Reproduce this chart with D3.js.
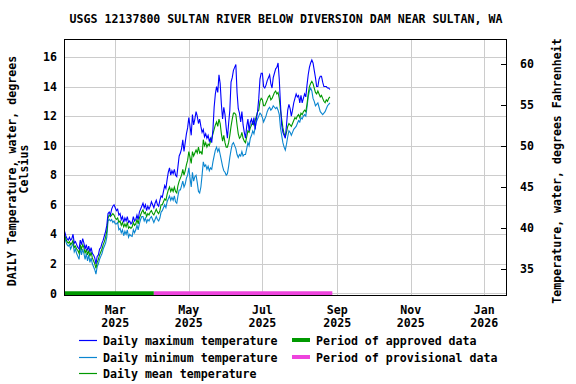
<!DOCTYPE html>
<html><head><meta charset="utf-8">
<script src="https://cdn.jsdelivr.net/npm/d3@7"></script>
<style>
html,body{margin:0;padding:0;background:#fff;}
text{font-family:"DejaVu Sans Mono",monospace;font-weight:bold;fill:#000;}
</style></head>
<body>
<svg id="c" width="576" height="384"></svg>
<script>
const title = "USGS 12137800 SULTAN RIVER BELOW DIVERSION DAM NEAR SULTAN, WA";
const startDay = "2025-01-18";
const maxT = [4.2,3.9,3.7,3.6,3.8,3.6,3.7,4.0,3.4,3.5,
3.3,3.1,3.0,3.6,3.3,3.7,3.4,3.0,3.3,2.9,
3.2,2.8,3.1,2.7,2.6,2.4,2.0,2.5,2.6,3.0,
3.1,3.4,3.6,3.9,4.2,4.6,5.4,5.5,5.3,5.7,
5.9,6.0,5.8,5.6,5.7,5.3,5.4,5.0,5.2,4.8,
5.1,4.9,5.2,4.8,4.9,4.7,4.8,5.2,4.9,5.0,
5.3,5.0,5.5,5.7,5.9,6.1,5.8,6.0,5.6,5.9,
5.7,5.9,6.2,6.0,5.8,6.1,6.3,6.0,5.9,6.3,
6.6,6.5,6.9,7.3,7.1,7.7,8.2,8.5,8.0,8.3,
8.1,8.4,8.0,7.9,8.6,9.3,9.5,9.8,10.4,9.6,
10.2,10.8,11.2,11.9,11.3,10.7,12.1,11.4,11.8,12.3,
12.0,11.5,11.8,11.3,10.9,11.1,10.6,10.8,10.5,10.7,
10.3,10.5,10.2,11.1,12.6,13.5,14.0,13.6,14.8,14.2,
12.8,11.8,12.6,12.1,11.2,10.5,11.5,12.4,14.3,14.6,
15.1,15.3,15.5,13.6,12.5,12.2,11.6,12.3,11.4,10.9,
10.5,11.3,11.8,11.0,11.6,11.8,11.4,11.9,11.1,11.8,
12.3,13.2,14.5,14.9,14.9,14.0,13.9,14.1,14.4,14.6,
14.8,14.2,13.9,14.6,14.9,15.2,15.3,15.6,14.5,12.8,
11.4,10.9,10.7,10.5,11.4,12.4,12.8,12.5,12.0,12.4,
12.9,13.2,13.5,13.3,13.4,12.9,13.4,12.9,13.2,13.5,
13.3,14.1,14.8,15.3,15.6,15.8,15.6,15.1,14.6,14.0,
14.0,14.5,14.7,14.7,14.3,14.0,14.0,14.0,13.9,13.9,13.8];
const meanT = [3.95,3.7,3.5,3.4,3.5,3.3,3.4,3.6,3.1,3.2,
3.0,2.9,2.7,3.3,3.0,3.3,3.1,2.7,3.0,2.6,
2.9,2.5,2.8,2.4,2.2,2.0,1.7,2.1,2.3,2.6,
2.8,3.0,3.3,3.5,3.8,4.2,5.1,5.3,5.2,5.3,
5.4,5.3,5.1,5.0,5.1,4.8,4.9,4.6,4.8,4.5,
4.7,4.5,4.8,4.4,4.5,4.4,4.5,4.8,4.6,4.7,
5.0,4.7,5.1,5.3,5.5,5.65,5.4,5.5,5.2,5.4,
5.3,5.5,5.6,5.4,5.3,5.5,5.7,5.5,5.4,5.6,
6.0,6.0,6.2,6.4,6.3,6.7,7.0,7.2,6.9,7.1,
6.9,7.2,6.9,6.8,7.3,7.6,7.8,8.0,8.4,8.0,
8.3,8.7,9.0,9.6,9.2,8.8,9.6,9.3,9.5,9.7,
9.5,9.9,9.5,9.6,9.4,10.4,10.0,10.2,9.9,10.1,
10.0,10.3,10.5,10.8,11.1,11.4,11.6,11.3,11.8,11.5,
10.8,10.3,10.7,10.2,9.9,9.9,10.2,10.7,11.3,11.8,
12.2,12.2,12.1,11.4,10.8,10.5,10.6,10.9,10.5,10.3,
10.2,10.6,11.0,10.9,11.2,11.4,11.6,11.4,11.7,12.0,
12.3,12.4,13.0,13.2,13.1,12.7,12.7,12.9,13.1,13.3,
13.4,13.1,13.2,13.4,13.6,13.7,13.5,13.6,13.2,12.4,
11.8,11.2,10.8,10.6,10.9,11.3,11.5,11.4,11.3,11.5,
11.7,11.9,11.8,12.0,12.1,11.9,12.2,12.1,12.3,12.4,
12.3,12.8,13.5,14.0,14.2,14.35,14.2,13.9,13.6,13.5,
13.7,13.5,13.3,13.4,13.2,13.0,12.9,13.1,13.0,13.2,13.3];
const minT = [3.9,3.5,3.3,3.2,3.3,3.0,3.2,3.4,2.8,3.0,
2.7,2.5,2.3,3.1,2.6,3.0,2.7,2.3,2.7,2.2,
2.6,2.1,2.4,2.0,1.8,1.6,1.3,1.8,2.0,2.3,
2.5,2.7,3.0,3.2,3.4,3.8,4.9,5.0,4.9,5.0,
4.8,4.9,4.7,4.7,4.8,4.3,4.4,4.1,4.3,3.9,
4.2,4.0,4.3,3.8,4.0,3.9,3.85,4.3,4.1,4.3,
4.6,4.3,4.7,5.0,5.2,5.2,4.9,5.1,4.8,5.0,
4.9,5.1,5.2,5.0,4.8,5.0,5.2,5.0,4.9,5.1,
5.5,5.6,5.8,6.0,5.8,6.2,6.4,6.6,6.3,6.5,
6.3,6.6,6.2,6.1,6.6,7.0,7.0,7.3,7.6,7.2,
7.4,7.8,8.0,8.5,7.8,7.2,8.2,7.6,7.9,8.0,
7.5,6.9,6.8,7.2,8.0,8.9,8.6,8.7,8.4,8.6,
8.3,8.5,8.4,8.9,9.3,9.7,9.9,9.6,9.8,9.4,
9.0,8.6,8.3,8.2,8.0,8.1,8.6,9.2,9.7,10.1,
10.2,10.0,9.8,9.4,9.2,9.4,9.3,9.6,9.3,9.4,
9.4,9.8,10.2,10.0,10.5,10.7,11.0,10.8,11.2,11.6,
11.8,12.0,12.2,12.1,11.9,11.6,11.8,12.0,12.3,12.5,
12.6,12.4,12.5,12.7,12.6,12.5,12.6,12.4,12.1,11.2,
10.7,10.2,9.9,9.7,10.1,10.6,11.0,10.9,10.7,10.9,
11.1,11.2,11.3,11.5,11.7,11.6,11.9,11.8,12.0,12.1,
12.0,12.6,13.3,13.7,13.9,13.7,13.2,13.0,12.7,12.8,
12.9,12.6,12.3,12.2,12.1,12.2,12.3,12.5,12.7,12.8,12.9];
const periods = [
  {label:"Period of approved data", start:"2025-01-17", end:"2025-04-02", color:"#009900"},
  {label:"Period of provisional data", start:"2025-04-02", end:"2025-08-28", color:"#ee44dd"}
];
const seriesInfo = [
  {label:"Daily maximum temperature", color:"#0000ff", values:maxT},
  {label:"Daily minimum temperature", color:"#0b86d0", values:minT},
  {label:"Daily mean temperature", color:"#009900", values:meanT}
];
const leftTicks = [0,2,4,6,8,10,12,14,16];
const rightTicks = [35,40,45,50,55,60];
const monthTicks = ["2025-03-01","2025-05-01","2025-07-01","2025-09-01","2025-11-01","2026-01-01"];

const svg = d3.select("#c");
const L=64, R=507, T=39, B=296;
const parse = d3.timeParse("%Y-%m-%d");
const x = d3.scaleTime().domain([new Date(2025,0,17,12), new Date(2026,0,19,20)]).range([L,R]);
const y = d3.scaleLinear().domain([-0.18,17.22]).range([B,T]);
const yF = d3.scaleLinear().domain([-0.18*1.8+32,17.22*1.8+32]).range([B,T]);
const start = parse(startDay);
const dates = maxT.map((_,i)=>d3.timeDay.offset(start,i));

// title
svg.append("text").attr("x",286).attr("y",23).attr("text-anchor","middle")
  .style("font-size","11.6px").text(title);

// grid
const g = svg.append("g");
g.selectAll(".hg").data(leftTicks).join("line")
  .attr("x1",L).attr("x2",R).attr("y1",d=>Math.round(y(d))+0.5).attr("y2",d=>Math.round(y(d))+0.5)
  .attr("stroke","#cccccc").attr("stroke-width",1);
g.selectAll(".vg").data(monthTicks).join("line")
  .attr("y1",T).attr("y2",B).attr("x1",d=>Math.round(x(parse(d)))+0.5).attr("x2",d=>Math.round(x(parse(d)))+0.5)
  .attr("stroke","#cccccc").attr("stroke-width",1);

// series
const line = d3.line().x((d,i)=>x(dates[i])).y(d=>y(d));
[seriesInfo[1],seriesInfo[2],seriesInfo[0]].forEach(s=>{
  svg.append("path").datum(s.values).attr("d",line).attr("fill","none")
    .attr("stroke",s.color).attr("stroke-width",1.1).attr("stroke-linejoin","miter");
});

// periods
periods.forEach(p=>{
  svg.append("line").attr("x1",Math.max(L,x(parse(p.start)))).attr("x2",x(parse(p.end)))
    .attr("y1",y(0)).attr("y2",y(0)).attr("stroke",p.color).attr("stroke-width",4);
});

// frame
svg.append("rect").attr("x",L+0.5).attr("y",T+0.5).attr("width",R-L-1).attr("height",B-T-1)
  .attr("fill","none").attr("stroke","#000").attr("stroke-width",1);

// left axis labels
svg.selectAll(".lt").data(leftTicks).join("text").attr("x",57).attr("y",d=>y(d)).attr("dy","0.36em")
  .attr("text-anchor","end").style("font-size","11.6px").text(d=>d);
// right ticks
svg.selectAll(".rtk").data(rightTicks).join("line").attr("x1",R-6).attr("x2",R)
  .attr("y1",d=>Math.round(yF(d))+0.5).attr("y2",d=>Math.round(yF(d))+0.5).attr("stroke","#000");
svg.selectAll(".rt").data(rightTicks).join("text").attr("x",520).attr("y",d=>yF(d)).attr("dy","0.36em")
  .attr("text-anchor","start").style("font-size","11.6px").text(d=>d);

// x labels
const fm = d3.timeFormat("%b"), fy = d3.timeFormat("%Y");
monthTicks.forEach(m=>{
  const d=parse(m), xx=x(d);
  svg.append("text").attr("x",xx).attr("y",314).attr("text-anchor","middle").style("font-size","11.6px").text(fm(d));
  svg.append("text").attr("x",xx).attr("y",327).attr("text-anchor","middle").style("font-size","11.6px").text(fy(d));
});

// axis titles
svg.append("text").attr("transform","translate(16,171) rotate(-90)").attr("text-anchor","middle")
  .style("font-size","11.6px").text("DAILY Temperature, water, degrees");
svg.append("text").attr("transform","translate(28,169) rotate(-90)").attr("text-anchor","middle")
  .style("font-size","11.6px").text("Celsius");
svg.append("text").attr("transform","translate(561,171) rotate(-90)").attr("text-anchor","middle")
  .style("font-size","11.6px").text("Temperature, water, degrees Fahrenheit");

// legend
const rows=[340,357,373];
seriesInfo.forEach((s,i)=>{
  svg.append("line").attr("x1",79).attr("x2",97).attr("y1",rows[i]+0.5).attr("y2",rows[i]+0.5).attr("stroke",s.color).attr("stroke-width",1.2);
  svg.append("text").attr("x",103).attr("y",rows[i]+1).attr("dy","0.36em").style("font-size","11.6px").text(s.label);
});
periods.forEach((p,i)=>{
  svg.append("line").attr("x1",292).attr("x2",310).attr("y1",rows[i]).attr("y2",rows[i]).attr("stroke",p.color).attr("stroke-width",4);
  svg.append("text").attr("x",316).attr("y",rows[i]+1).attr("dy","0.36em").style("font-size","11.6px").text(p.label);
});
</script>
</body></html>
